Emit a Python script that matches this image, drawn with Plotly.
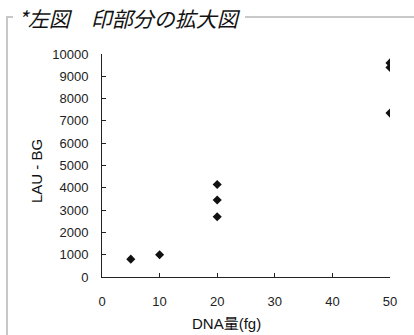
import plotly.graph_objects as go

# Data
dna_fg = [5, 10, 20, 20, 20, 50, 50, 50]
lau_bg = [800, 1000, 2700, 3450, 4150, 7350, 9400, 9600]

x_ticks = [0, 10, 20, 30, 40, 50]
y_ticks = [0, 1000, 2000, 3000, 4000, 5000, 6000, 7000, 8000, 9000, 10000]

title_text = "*左図　印部分の拡大図"
x_title = "DNA量(fg)"
y_title = "LAU - BG"

W, H = 414, 335
L, R, T, B = 102, 24, 54, 58
pw, ph = W - L - R, H - T - B

def px_x(p):
    return (p - L) / pw

def px_y(p):
    return (H - B - p) / ph

tick_font = dict(family="Liberation Sans, Arial, sans-serif", size=13, color="#222")

fig = go.Figure()
fig.add_trace(go.Scatter(
    x=dna_fg, y=lau_bg, mode="markers",
    marker=dict(symbol="diamond", size=7, color="#111"),
    showlegend=False, hoverinfo="skip",
))

fig.update_layout(
    width=W, height=H,
    margin=dict(l=L, r=R, t=T, b=B, pad=0),
    paper_bgcolor="white", plot_bgcolor="white",
    xaxis=dict(
        range=[0, 50], tickvals=x_ticks, ticktext=[str(v) for v in x_ticks],
        showgrid=False, zeroline=False, showline=True, linecolor="#222", linewidth=1,
        ticks="inside", ticklen=4, tickcolor="#222", tickfont=tick_font,
        ticklabelstandoff=12, automargin=False,
    ),
    yaxis=dict(
        range=[0, 10000], tickvals=y_ticks, ticktext=[str(v) for v in y_ticks],
        showgrid=False, zeroline=False, showline=True, linecolor="#222", linewidth=1,
        ticks="inside", ticklen=4, tickcolor="#222", tickfont=tick_font,
        ticklabelstandoff=10, automargin=False,
    ),
    shapes=[
        dict(type="line", xref="paper", yref="paper",
             x0=px_x(7), x1=px_x(7), y0=px_y(17), y1=px_y(340),
             line=dict(color="#c8c8c8", width=2)),
        dict(type="line", xref="paper", yref="paper",
             x0=px_x(6), x1=px_x(13), y0=px_y(17), y1=px_y(17),
             line=dict(color="#c8c8c8", width=2)),
        dict(type="line", xref="paper", yref="paper",
             x0=px_x(245), x1=px_x(420), y0=px_y(17), y1=px_y(17),
             line=dict(color="#c8c8c8", width=2)),
    ],
    annotations=[
        dict(text=title_text, xref="paper", yref="paper",
             x=px_x(16), y=px_y(18), xanchor="left", yanchor="middle",
             showarrow=False,
             font=dict(family="Noto Sans CJK JP", size=21, color="#111", style="italic")),
        dict(text=x_title, xref="paper", yref="paper",
             x=px_x(226), y=px_y(323), xanchor="center", yanchor="middle",
             showarrow=False,
             font=dict(family="Liberation Sans, Noto Sans CJK JP, sans-serif", size=15, color="#111")),
        dict(text=y_title, xref="paper", yref="paper",
             x=px_x(36), y=px_y(171), xanchor="center", yanchor="middle",
             textangle=-90, showarrow=False,
             font=dict(family="Liberation Sans, Arial, sans-serif", size=15, color="#111")),
    ],
)

fig.write_html("out.html", config={"displayModeBar": False, "staticPlot": True},
               post_script="document.body.style.margin='0';document.body.style.overflow='hidden';")
